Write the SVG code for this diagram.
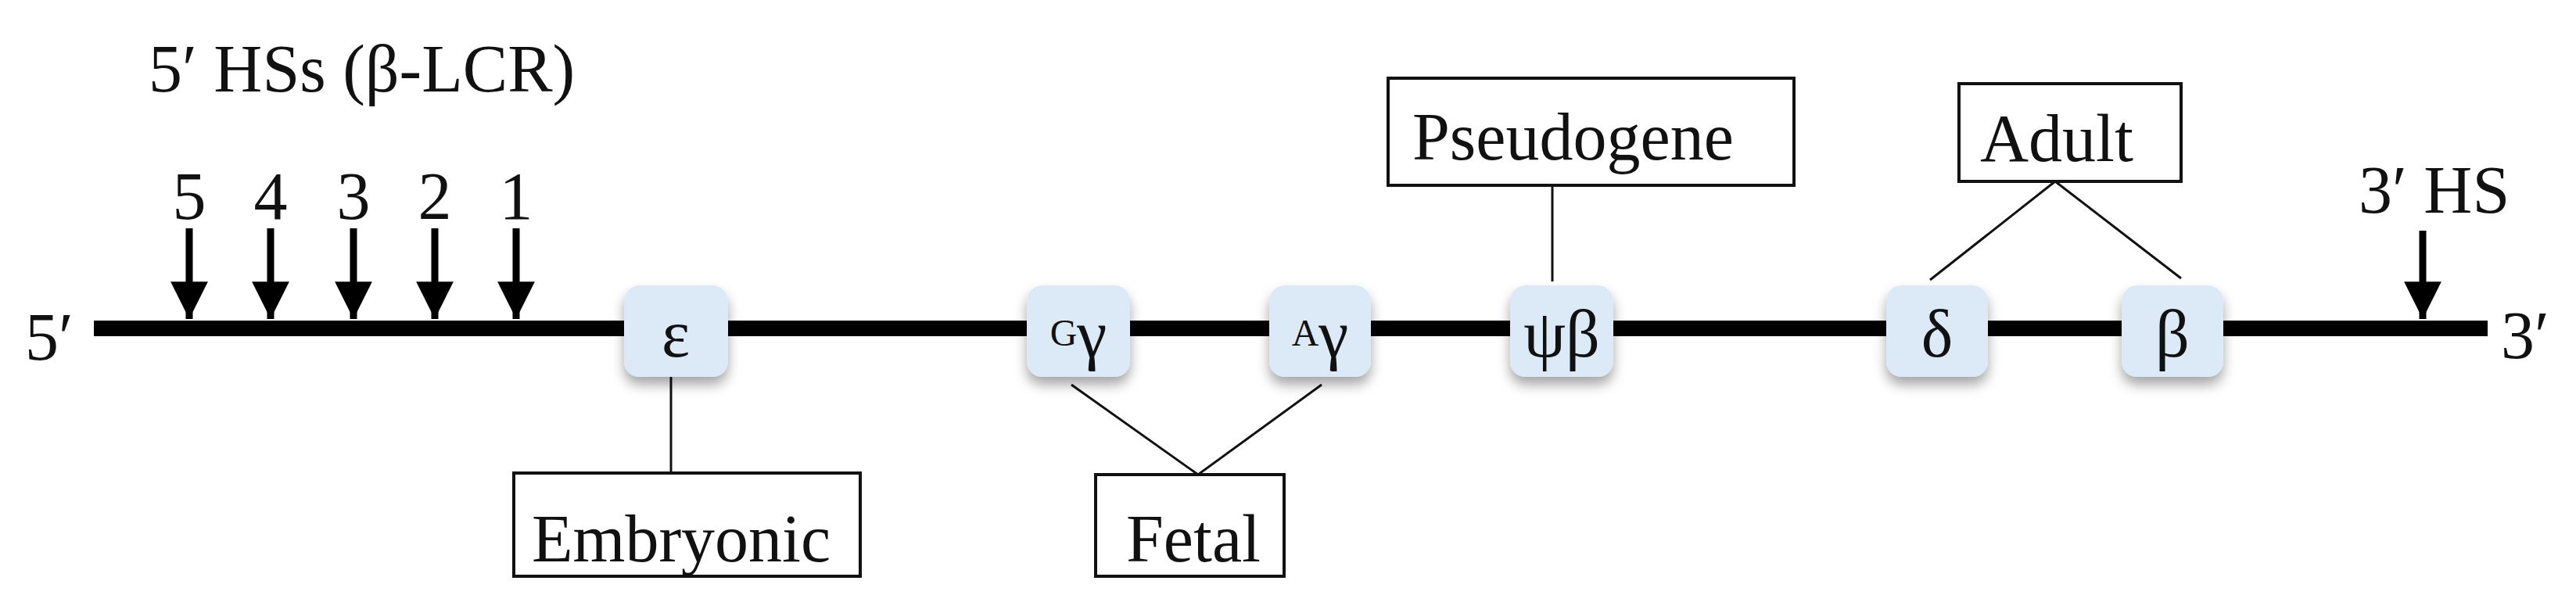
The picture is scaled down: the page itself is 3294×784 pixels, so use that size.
<svg xmlns="http://www.w3.org/2000/svg" width="3294" height="784" viewBox="0 0 3294 784">
<style>
text{font-family:"Liberation Serif","DejaVu Serif",serif;fill:#111;}
.lbl{font-size:86px;}
.gene{fill:#dceaf7;}
.g{font-size:86px;text-anchor:middle;}
.sup{font-size:48px;}
.box{fill:#fff;stroke:#111;stroke-width:4;}
.thin{stroke:#111;stroke-width:3;fill:none;}
.arr{stroke:#000;stroke-width:9;}
</style>
<defs>
<filter id="sh" x="-30%" y="-30%" width="160%" height="170%">
<feDropShadow dx="0" dy="10" stdDeviation="8" flood-color="#000" flood-opacity="0.35"/>
</filter>
<marker id="ah" viewBox="0 0 10 10" refX="10" refY="5" markerWidth="5.3" markerHeight="5.3" markerUnits="strokeWidth" orient="auto">
<path d="M0,0 L10,5 L0,10 z" fill="#000"/>
</marker>
</defs>
<rect width="3294" height="784" fill="#fff"/>
<text class="lbl" x="190" y="117">5′ HSs (β-LCR)</text>
<text class="lbl" x="32" y="460">5′</text>
<text class="lbl" x="3198" y="458">3′</text>
<g id="connectors">
<rect x="120" y="410" width="3061" height="20" fill="#000"/>
<line class="arr" x1="242" y1="292" x2="242" y2="408" marker-end="url(#ah)"/>
<line class="arr" x1="346" y1="292" x2="346" y2="408" marker-end="url(#ah)"/>
<line class="arr" x1="452" y1="292" x2="452" y2="408" marker-end="url(#ah)"/>
<line class="arr" x1="556" y1="292" x2="556" y2="408" marker-end="url(#ah)"/>
<line class="arr" x1="660" y1="292" x2="660" y2="408" marker-end="url(#ah)"/>
<line class="arr" x1="3098" y1="295" x2="3098" y2="408" marker-end="url(#ah)"/>
<line class="thin" x1="858" y1="482" x2="858" y2="605"/>
<polyline class="thin" points="1370,492 1532,607 1690,492"/>
<line class="thin" x1="1985" y1="237" x2="1985" y2="360"/>
<polyline class="thin" points="2468,358 2628,232 2789,356"/>
</g>
<g id="hs-labels" class="lbl" text-anchor="middle">
<text x="242" y="280">5</text><text x="346" y="280">4</text><text x="452" y="280">3</text><text x="556" y="280">2</text><text x="660" y="280">1</text>
</g>
<text class="lbl" x="3016" y="272">3′ HS</text>
<g id="epsilon"><rect class="gene" filter="url(#sh)" x="798" y="365" width="133" height="117" rx="20"/><text class="g" x="864" y="456">ε</text></g>
<g id="Ggamma"><rect class="gene" filter="url(#sh)" x="1313" y="365" width="132" height="117" rx="20"/><text class="g" x="1379" y="456"><tspan class="sup" dy="-14">G</tspan><tspan dy="14">γ</tspan></text></g>
<g id="Agamma"><rect class="gene" filter="url(#sh)" x="1623" y="365" width="130" height="117" rx="20"/><text class="g" x="1688" y="456"><tspan class="sup" dy="-14">A</tspan><tspan dy="14">γ</tspan></text></g>
<g id="psibeta"><rect class="gene" filter="url(#sh)" x="1931" y="365" width="132" height="117" rx="20"/><text class="g" x="1997" y="456">ψβ</text></g>
<g id="delta"><rect class="gene" filter="url(#sh)" x="2412" y="365" width="130" height="117" rx="20"/><text class="g" x="2477" y="456">δ</text></g>
<g id="beta"><rect class="gene" filter="url(#sh)" x="2713" y="365" width="130" height="117" rx="20"/><text class="g" x="2778" y="456">β</text></g>
<g id="embryonic"><rect class="box" x="657" y="605" width="443" height="132"/><text class="lbl" x="680" y="718">Embryonic</text></g>
<g id="fetal"><rect class="box" x="1401" y="607" width="241" height="130"/><text class="lbl" x="1440" y="718">Fetal</text></g>
<g id="pseudogene"><rect class="box" x="1775" y="100" width="519" height="137"/><text class="lbl" x="1806" y="204">Pseudogene</text></g>
<g id="adult"><rect class="box" x="2505" y="107" width="284" height="125"/><text class="lbl" x="2532" y="206">Adult</text></g>
</svg>
